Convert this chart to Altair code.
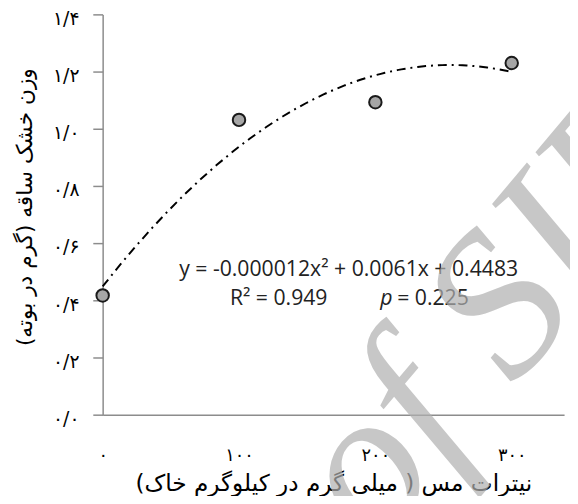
import altair as alt
import pandas as pd

# ---- data ----
nitrate = [0, 100, 200, 300]
dry_weight = [0.417, 1.031, 1.093, 1.230]

y_tick_values = [0.0, 0.2, 0.4, 0.6, 0.8, 1.0, 1.2, 1.4]
y_tick_labels = ["۰/۰", "۰/۲", "۰/۴", "۰/۶", "۰/۸", "۱/۰", "۱/۲", "۱/۴"]
x_tick_values = [0, 100, 200, 300]
x_tick_labels = ["۰", "۱۰۰", "۲۰۰", "۳۰۰"]

RLM = "\u200f"
x_title = RLM + "نیترات مس ( میلی گرم در کیلوگرم خاک)" + RLM
y_title = RLM + "وزن خشک ساقه (گرم در بوته)" + RLM

equation_text = ["y = -0.000012x² + 0.0061x + 0.4483"]
equation_pos = [(180.4, 0.507)]
r2_text = ["R² = 0.949"]
r2_pos = [(129.1, 0.403)]
p_symbol = ["p"]
p_symbol_pos = [(212.6, 0.403)]
p_value_text = ["= 0.225"]
p_value_pos = [(216.0, 0.403)]

watermark_text = ["of SID"]
watermark_pos = [(201.8, -0.476)]

df = pd.DataFrame({"nitrate": nitrate, "dry_weight": dry_weight})

def text_df(texts, pos):
    return pd.DataFrame({"t": texts, "x": [p[0] for p in pos], "y": [p[1] for p in pos]})

ylab_expr = "[" + ",".join("'" + s + "'" for s in y_tick_labels) + "][round(datum.value*5)]"
xlab_expr = "[" + ",".join("'" + s + "'" for s in x_tick_labels) + "][round(datum.value/100)]"

GRAY = "#8c8c8c"
FA_FONT = "DejaVu Sans"

x_scale = alt.Scale(domain=[0, 338.4], nice=False, zero=False)
y_scale = alt.Scale(domain=[0, 1.4], nice=False)

x_enc = alt.X(
    "nitrate:Q", scale=x_scale,
    axis=alt.Axis(
        values=x_tick_values, labelExpr=xlab_expr, ticks=False, grid=False,
        domainColor=GRAY, domainWidth=1.5, labelPadding=32, labelFontSize=18,
        labelFont=FA_FONT, labelColor="black", labelFlush=False,
        title=x_title, titleFont=FA_FONT, titleFontSize=23.5, titleFontWeight="normal",
        titleColor="black", titleY=70, titleBaseline="middle",
    ),
)
y_enc = alt.Y(
    "dry_weight:Q", scale=y_scale,
    axis=alt.Axis(
        values=y_tick_values, labelExpr=ylab_expr, ticks=True, tickSize=10,
        tickColor=GRAY, tickWidth=1.5, grid=False, domainColor=GRAY, domainWidth=1.5,
        labelPadding=14, labelFontSize=19, labelFont=FA_FONT, labelColor="black",
        labelFlush=False, labelOffset=4,
        title=y_title, titleFont=FA_FONT, titleFontSize=22, titleFontWeight="normal",
        titleColor="black", titleX=-79, titleY=195, titleBaseline="middle",
    ),
)

base = alt.Chart(df)

trend = base.transform_regression(
    "nitrate", "dry_weight", method="poly", order=2
).mark_line(color="black", strokeWidth=2, strokeDash=[9, 5, 2, 5]).encode(x=x_enc, y=y_enc)

points = base.mark_point(
    shape="circle", filled=True, size=160, fill="#a6a6a6", stroke="#1a1a1a",
    strokeWidth=2, opacity=1
).encode(x=x_enc, y=y_enc)

def text_layer(texts, pos, align, italic=False):
    return alt.Chart(text_df(texts, pos)).mark_text(
        align=align, baseline="middle", font="Open Sans", fontSize=21.5,
        fontStyle="italic" if italic else "normal", color="#222222"
    ).encode(
        x=alt.X("x:Q", scale=x_scale), y=alt.Y("y:Q", scale=y_scale), text="t:N"
    )

eq = text_layer(equation_text, equation_pos, "center")
r2 = text_layer(r2_text, r2_pos, "center")
pp = text_layer(p_symbol, p_symbol_pos, "right", italic=True)
pv = text_layer(p_value_text, p_value_pos, "left")

watermark = alt.Chart(text_df(watermark_text, watermark_pos)).mark_text(
    align="left", baseline="alphabetic", font="Liberation Serif", fontStyle="italic",
    fontSize=210, angle=310, color="#b0b0b0", opacity=0.7
).encode(x=alt.X("x:Q", scale=x_scale), y=alt.Y("y:Q", scale=y_scale), text="t:N")

chart = alt.layer(trend, points, eq, r2, pp, pv, watermark).properties(
    width=468, height=406,
    autosize=alt.AutoSizeParams(type="none"),
    padding={"left": 96, "top": 3, "right": 6, "bottom": 79},
    background="white",
).configure_view(stroke=None)

chart.save("out.html", embed_options={"renderer": "svg", "actions": False})
